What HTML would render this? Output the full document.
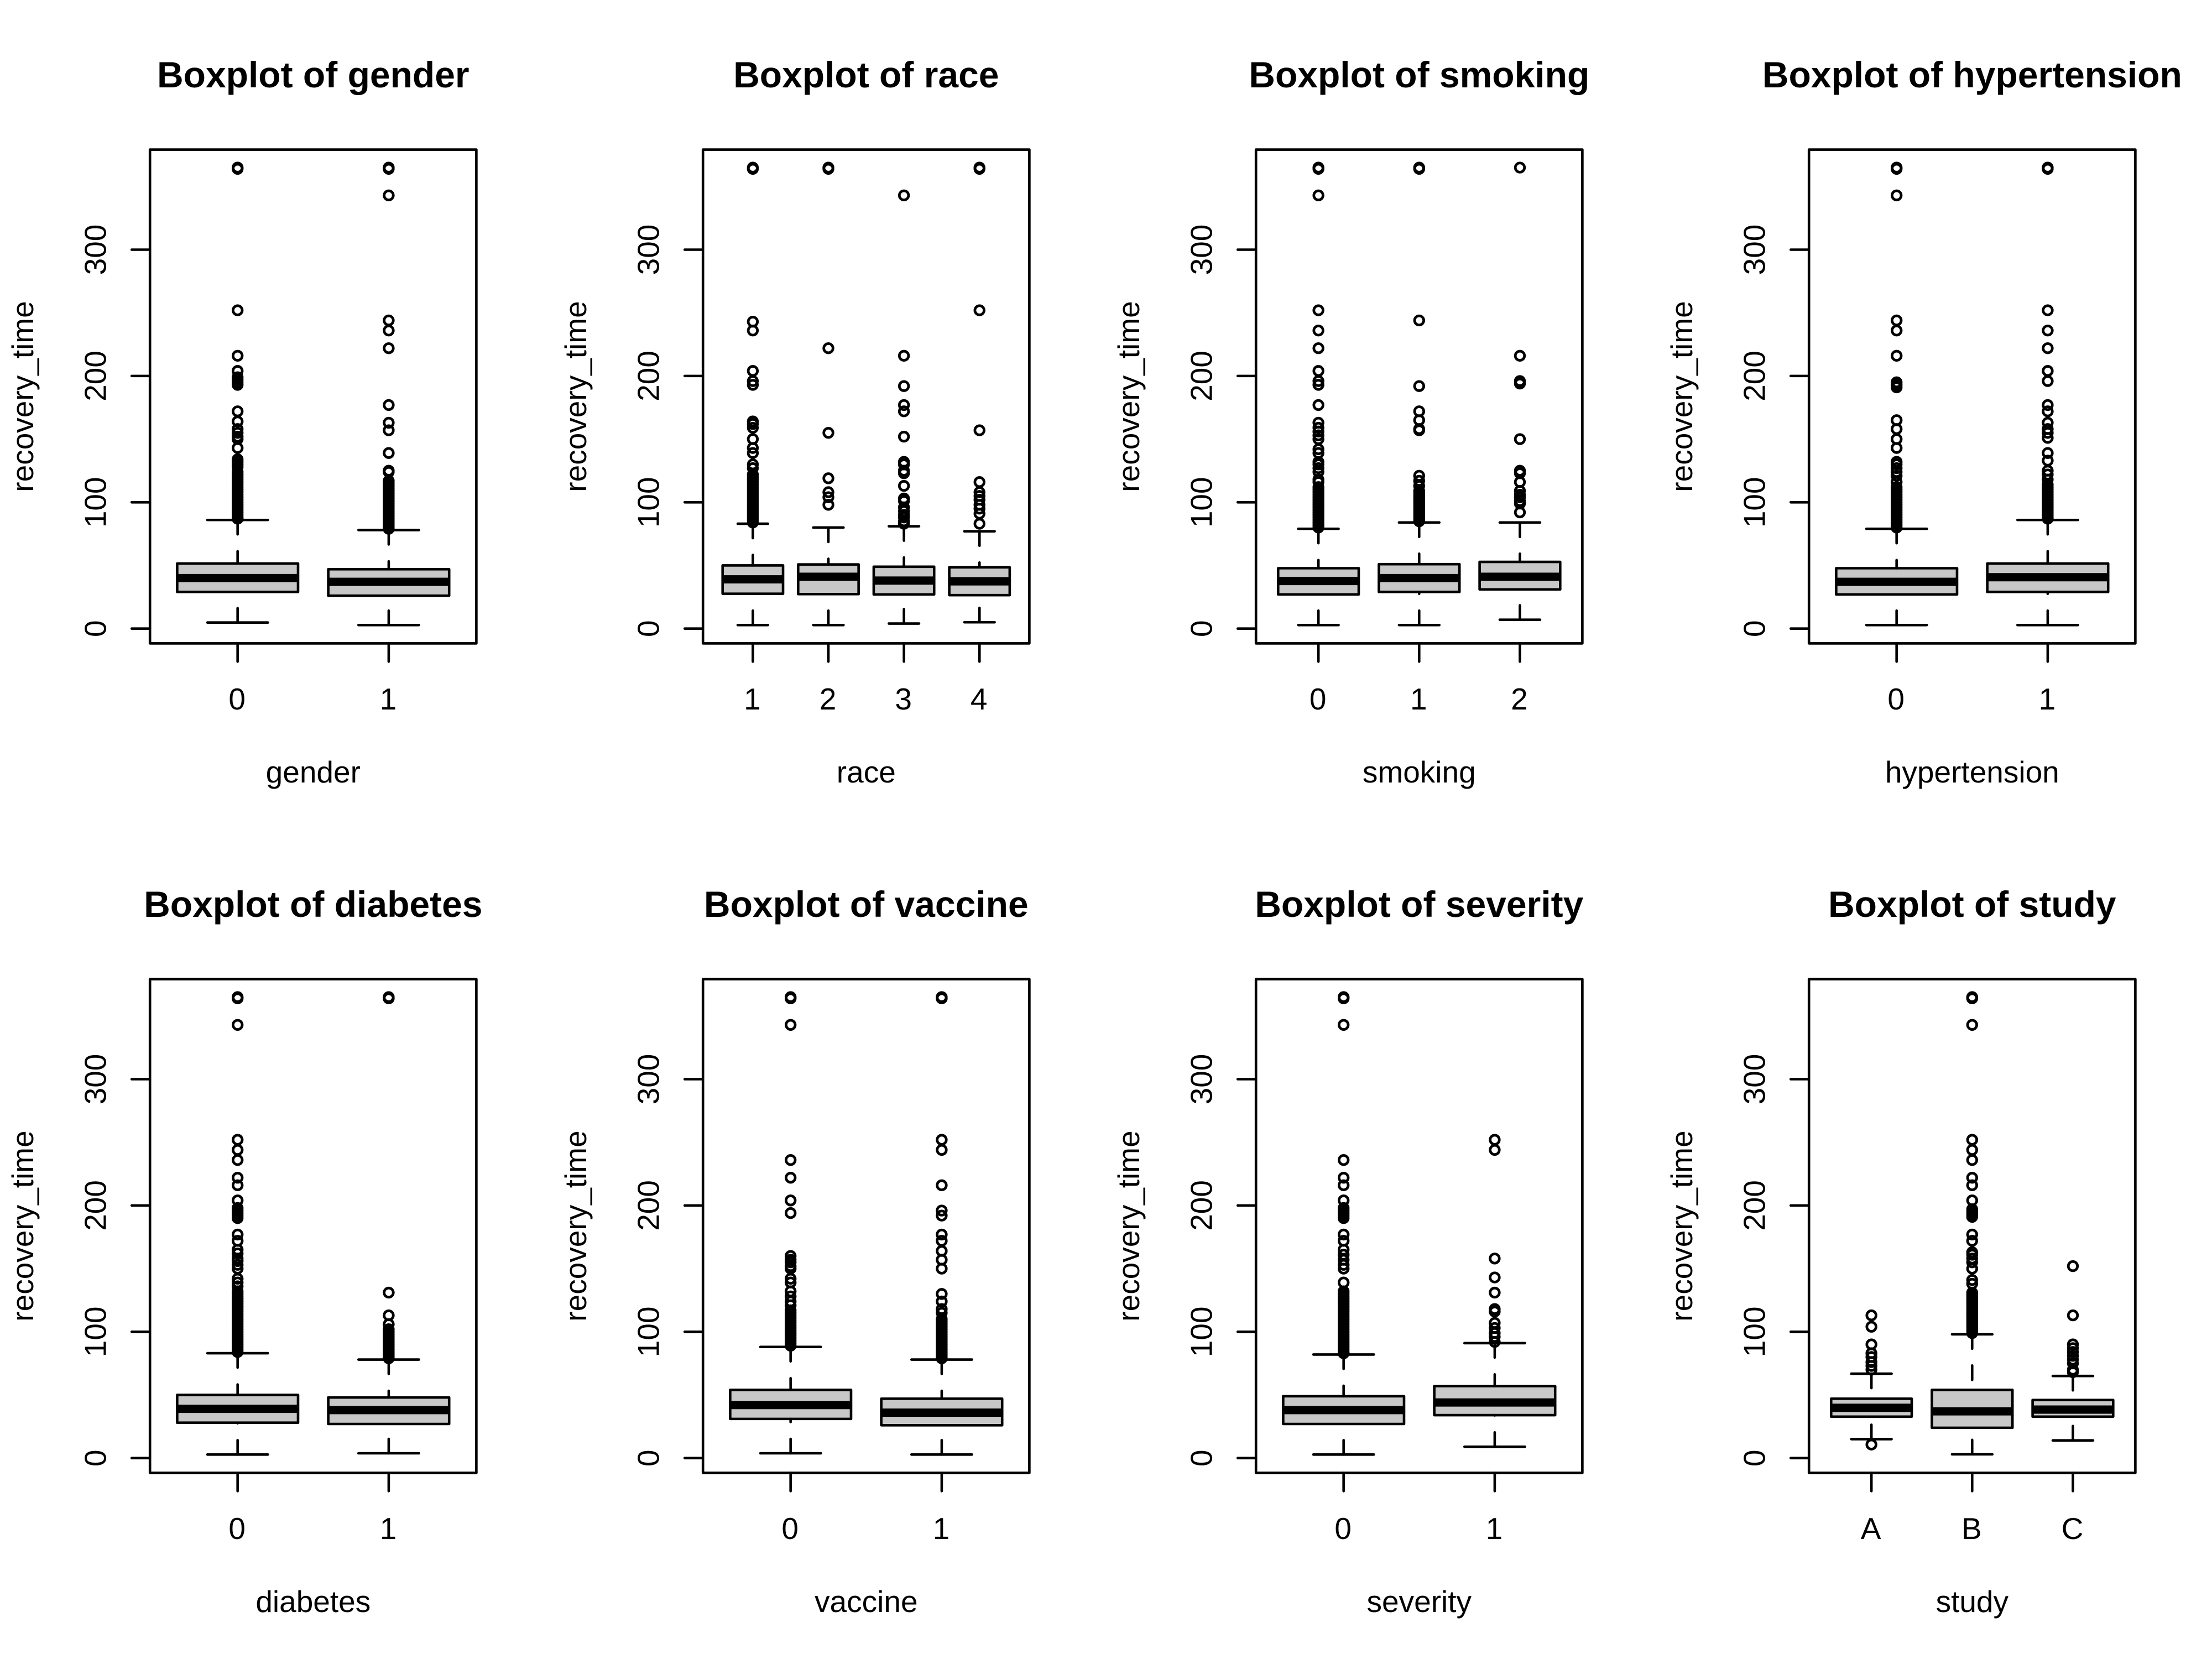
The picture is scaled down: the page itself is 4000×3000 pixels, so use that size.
<!DOCTYPE html>
<html lang="en">
<head>
<meta charset="utf-8">
<title>Boxplots of recovery_time</title>
<style>
html,body{margin:0;padding:0;background:#fff;width:4000px;height:3000px;overflow:hidden}
svg{display:block}
text{font-family:"Liberation Sans",Arial,sans-serif;fill:#000}
</style>
</head>
<body>
<svg id="chart" xmlns="http://www.w3.org/2000/svg" width="4000" height="3000" viewBox="0 0 4000 3000"></svg>
<script>
const yTicks = [0, 100, 200, 300];
const yLabel = 'recovery_time';
const yDomain = [-11.7, 379.2];

const panelVars = ['gender', 'race', 'smoking', 'hypertension', 'diabetes', 'vaccine', 'severity', 'study'];
const panelTitles = ['Boxplot of gender', 'Boxplot of race', 'Boxplot of smoking', 'Boxplot of hypertension', 'Boxplot of diabetes', 'Boxplot of vaccine', 'Boxplot of severity', 'Boxplot of study'];

const genderCategories = ['0', '1'];
const genderStats = [[4.8, 29, 40, 51.5, 86], [2.8, 26, 37, 47, 78]];
const genderOutliers = [
  [365, 364, 252, 216, 204, 199, 197, 195, 193, 172, 164, 158, 155, 152, 150, 143, 134, 132, 130, 128, 124, 122, 120, 118, 116, 114, 112, 110, 108, 106, 104, 102, 100, 98, 96, 94, 92, 90, 88, 87],
  [365, 364, 343, 244, 236, 222, 177, 163, 157, 139, 125, 124, 117, 115, 113, 111, 109, 107, 105, 103, 101, 99, 97, 95, 93, 91, 89, 87, 85, 83, 81, 79]
];

const raceCategories = ['1', '2', '3', '4'];
const raceStats = [[2.8, 27.6, 39, 50, 83], [2.8, 27.3, 41, 50.8, 80], [4, 27, 38, 49, 81], [5, 26.5, 37.4, 48.5, 77]];
const raceOutliers = [
  [365, 364, 243, 236, 204, 196, 193, 164, 162, 159, 150, 143, 139, 130, 127, 122, 120, 118, 116, 114, 112, 110, 108, 106, 104, 102, 100, 98, 96, 94, 92, 90, 88, 86, 84],
  [365, 364, 222, 155, 119, 108, 104, 98],
  [343, 216, 192, 177, 172, 152, 132, 130, 125, 123, 113, 103, 101, 96, 93, 90, 88, 85, 83],
  [365, 364, 252, 157, 116, 108, 105, 102, 98, 95, 91, 83]
];

const smokingCategories = ['0', '1', '2'];
const smokingStats = [[2.8, 27, 37.7, 47.8, 79], [2.8, 29, 40, 51, 84], [7, 31, 41, 52.8, 84]];
const smokingOutliers = [
  [365, 364, 343, 252, 236, 222, 204, 196, 193, 177, 163, 159, 156, 153, 150, 142, 139, 132, 130, 127, 124, 118, 116, 112, 110, 108, 106, 104, 102, 100, 98, 96, 94, 92, 90, 88, 86, 84, 82, 80],
  [365, 364, 244, 192, 172, 165, 158, 157, 121, 117, 113, 109, 107, 105, 103, 101, 99, 97, 95, 93, 91, 89, 87, 85],
  [365, 216, 196, 194, 150, 125, 123, 116, 109, 106, 104, 101, 99, 92]
];

const hypertensionCategories = ['0', '1'];
const hypertensionStats = [[2.8, 27, 37, 47.8, 79], [2.8, 29, 40.7, 51.5, 86]];
const hypertensionOutliers = [
  [365, 364, 343, 244, 236, 216, 195, 193, 191, 165, 158, 150, 143, 132, 130, 127, 124, 121, 116, 112, 110, 108, 106, 104, 102, 100, 98, 96, 94, 92, 90, 88, 86, 84, 82, 80],
  [365, 364, 252, 236, 222, 204, 196, 177, 172, 163, 158, 155, 151, 139, 133, 125, 122, 118, 114, 112, 110, 108, 106, 104, 102, 100, 98, 96, 94, 92, 90, 88, 87]
];

const diabetesCategories = ['0', '1'];
const diabetesStats = [[2.8, 28, 39, 50, 83], [3.8, 27, 38, 48, 78]];
const diabetesOutliers = [
  [365, 364, 343, 252, 244, 236, 222, 216, 204, 198, 196, 194, 192, 190, 177, 172, 165, 162, 158, 156, 153, 150, 142, 139, 136, 132, 130, 128, 126, 124, 122, 120, 118, 116, 114, 112, 110, 108, 106, 104, 102, 100, 98, 96, 94, 92, 90, 88, 86, 84],
  [365, 364, 131, 113, 106, 102, 100, 98, 96, 94, 92, 90, 88, 86, 84, 82, 80, 79]
];

const vaccineCategories = ['0', '1'];
const vaccineStats = [[3.8, 31, 42, 54, 88], [2.8, 26, 36, 47, 78]];
const vaccineOutliers = [
  [365, 364, 343, 236, 222, 204, 194, 160, 157, 155, 152, 150, 142, 139, 132, 128, 124, 121, 117, 115, 113, 111, 109, 107, 105, 103, 101, 99, 97, 95, 93, 91, 89],
  [365, 364, 252, 244, 216, 196, 192, 177, 172, 164, 157, 150, 130, 124, 118, 115, 110, 108, 106, 104, 102, 100, 98, 96, 94, 92, 90, 88, 86, 84, 82, 80, 79]
];

const severityCategories = ['0', '1'];
const severityStats = [[2.8, 27, 38, 49, 82], [9, 34, 44, 57, 91]];
const severityOutliers = [
  [365, 364, 343, 236, 222, 216, 204, 198, 196, 194, 192, 190, 177, 172, 165, 161, 157, 153, 150, 139, 132, 130, 128, 126, 124, 122, 120, 118, 116, 114, 112, 110, 108, 106, 104, 102, 100, 98, 96, 94, 92, 90, 88, 86, 84, 83],
  [252, 244, 158, 143, 131, 118, 116, 107, 103, 99, 96, 92]
];

const studyCategories = ['A', 'B', 'C'];
const studyStats = [[15, 32.8, 39.8, 47, 66.8], [3, 24, 37, 54, 98], [14, 32.8, 38.4, 46, 65]];
const studyOutliers = [
  [113, 104, 90, 83, 80, 76, 73, 70, 10.7],
  [365, 364, 343, 252, 244, 236, 222, 216, 204, 197, 195, 193, 191, 177, 172, 163, 161, 158, 155, 150, 141, 138, 131, 129, 127, 125, 123, 121, 119, 117, 115, 113, 111, 109, 107, 105, 103, 101, 99],
  [152, 113, 90, 87, 84, 81, 78, 75, 70, 68]
];

const panelCategories = [genderCategories, raceCategories, smokingCategories, hypertensionCategories, diabetesCategories, vaccineCategories, severityCategories, studyCategories];
const panelStats = [genderStats, raceStats, smokingStats, hypertensionStats, diabetesStats, vaccineStats, severityStats, studyStats];
const panelOutliers = [genderOutliers, raceOutliers, smokingOutliers, hypertensionOutliers, diabetesOutliers, vaccineOutliers, severityOutliers, studyOutliers];

const NS = 'http://www.w3.org/2000/svg';
const LW = 4.6;
const FS = 55;

function svgEl(parent, tag, attrs) {
  const el = document.createElementNS(NS, tag);
  for (const k in attrs) el.setAttribute(k, attrs[k]);
  parent.appendChild(el);
  return el;
}

function drawPanel(root, idx) {
  const ox = (idx % 4) * 1000;
  const oy = Math.floor(idx / 4) * 1500;
  const left = ox + 271.2, right = ox + 861.4, top = oy + 270.6, bottom = oy + 1163.4;
  const varName = panelVars[idx];
  const cats = panelCategories[idx];
  const stats = panelStats[idx];
  const outs = panelOutliers[idx];
  const n = cats.length;
  const xLo = 0.5 - 0.04 * n, xHi = n + 0.5 + 0.04 * n;
  const xScale = v => left + (v - xLo) / (xHi - xLo) * (right - left);
  const yScale = v => bottom - (v - yDomain[0]) / (yDomain[1] - yDomain[0]) * (bottom - top);
  const unit = (right - left) / (xHi - xLo);
  const stroke = {stroke: '#000', 'stroke-width': LW, 'stroke-linecap': 'round', fill: 'none'};

  const g = svgEl(root, 'g', {});
  
  

  stats.forEach((s, i) => {
    const cx = xScale(i + 1);
    const hw = unit * 0.4;
    const sw = unit * 0.2;
    const bg = svgEl(g, 'g', {});
    
    

    const rect = svgEl(bg, 'rect', {x: cx - hw, y: yScale(s[3]), width: 2 * hw, height: yScale(s[1]) - yScale(s[3]), fill: '#c8c8c8', stroke: '#000', 'stroke-width': LW, 'stroke-linejoin': 'round'});
    
    

    const med = svgEl(bg, 'line', {x1: cx - hw, x2: cx + hw, y1: yScale(s[2]), y2: yScale(s[2]), stroke: '#000', 'stroke-width': 15});
    
    

    [[s[0], s[1], 'lower'], [s[4], s[3], 'upper']].forEach(w => {
      const wl = svgEl(bg, 'line', Object.assign({x1: cx, x2: cx, y1: yScale(w[0]), y2: yScale(w[1]), 'stroke-dasharray': '26 30.5'}, stroke));
      
      
      const st = svgEl(bg, 'line', Object.assign({x1: cx - sw, x2: cx + sw, y1: yScale(w[0]), y2: yScale(w[0])}, stroke));
      
      
    });

    outs[i].forEach(v => {
      const c = svgEl(bg, 'circle', {cx: cx, cy: yScale(v), r: 8.3, fill: 'none', stroke: '#000', 'stroke-width': 4.8});
      
      
    });
  });

  const frame = svgEl(g, 'rect', {x: left, y: top, width: right - left, height: bottom - top, fill: 'none', stroke: '#000', 'stroke-width': LW, 'stroke-linejoin': 'round'});
  
  

  cats.forEach((c, i) => {
    const cx = xScale(i + 1);
    const t = svgEl(g, 'line', Object.assign({x1: cx, x2: cx, y1: bottom, y2: bottom + 33}, stroke));
    
    
    const lab = svgEl(g, 'text', {x: cx - 1, y: oy + 1283, 'text-anchor': 'middle', 'font-size': FS});
    lab.textContent = c;
    
    
  });

  yTicks.forEach(v => {
    const y = yScale(v);
    const t = svgEl(g, 'line', Object.assign({x1: left - 33, x2: left, y1: y, y2: y}, stroke));
    
    
    const lx = ox + 191.5;
    const lab = svgEl(g, 'text', {x: lx, y: y, 'text-anchor': 'middle', 'font-size': FS, transform: 'rotate(-90 ' + lx + ' ' + y + ')'});
    lab.textContent = String(v);
    
    
  });

  const cxMid = (left + right) / 2, cyMid = (top + bottom) / 2;

  const title = svgEl(g, 'text', {x: cxMid, y: oy + 158, 'text-anchor': 'middle', 'font-size': 66, 'font-weight': 'bold'});
  title.textContent = panelTitles[idx];
  
  

  const xl = svgEl(g, 'text', {x: cxMid, y: oy + 1415, 'text-anchor': 'middle', 'font-size': FS});
  xl.textContent = varName;
  
  

  const ylx = ox + 60;
  const yl = svgEl(g, 'text', {x: ylx, y: cyMid, 'text-anchor': 'middle', 'font-size': FS, transform: 'rotate(-90 ' + ylx + ' ' + cyMid + ')'});
  yl.textContent = yLabel;
  
  
}

const chartRoot = document.getElementById('chart');
panelVars.forEach((_, i) => drawPanel(chartRoot, i));
</script>
</body>
</html>
